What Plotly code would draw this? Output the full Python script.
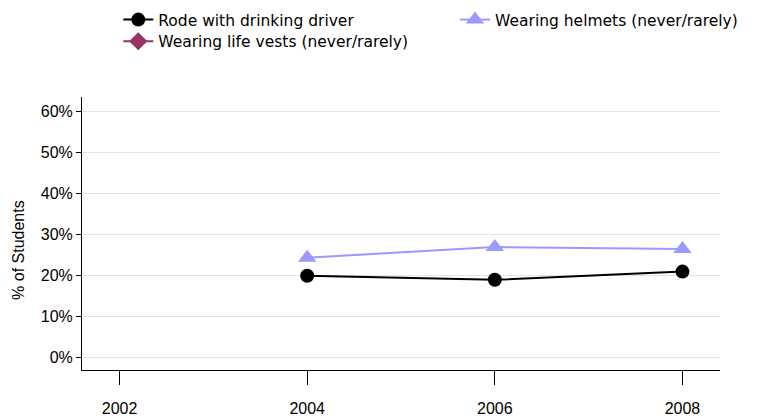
import plotly.graph_objects as go

# Datos
YEARS = [2004, 2006, 2008]
RODE_DRINKING = [19.9, 18.9, 20.9]
HELMETS_NEVER = [24.3, 26.9, 26.4]
LIFE_VESTS_NEVER = [None, None, None]
X_TICKS = [2002, 2004, 2006, 2008]
Y_TICKS = [0, 10, 20, 30, 40, 50, 60]

TICK_FONT = dict(family='Liberation Sans, Arial', size=16, color='#000000')
LEGEND_FONT = dict(family='DejaVu Sans, Verdana', size=15.5, color='#000000')


def legend_box(x, y):
    # una leyenda por serie para colocarlas como en el original
    return dict(
        orientation='h', xref='container', yref='container',
        x=x, y=y, xanchor='left', yanchor='middle',
        font=LEGEND_FONT, bgcolor='rgba(0,0,0,0)', itemsizing='trace'
    )


fig = go.Figure()
fig.add_trace(go.Scatter(
    x=YEARS, y=RODE_DRINKING, mode='lines+markers',
    name='Rode with drinking driver', legend='legend',
    line=dict(color='#000000', width=2),
    marker=dict(symbol='circle', size=14, color='#000000')
))
fig.add_trace(go.Scatter(
    x=YEARS, y=HELMETS_NEVER, mode='lines+markers',
    name='Wearing helmets (never/rarely)', legend='legend2',
    line=dict(color='#9999FF', width=2),
    marker=dict(symbol='triangle-up', size=16, color='#9999FF')
))
fig.add_trace(go.Scatter(
    x=YEARS, y=LIFE_VESTS_NEVER, mode='lines+markers',
    name='Wearing life vests (never/rarely)', legend='legend3',
    line=dict(color='#993366', width=2),
    marker=dict(symbol='diamond', size=14, color='#993366')
))

fig.update_layout(
    width=759, height=420,
    margin=dict(l=74, r=47, t=89, b=58),
    plot_bgcolor='white', paper_bgcolor='white',
    showlegend=True,
    legend=legend_box(0.1453, 0.9714),
    legend2=legend_box(0.589, 0.9714),
    legend3=legend_box(0.1453, 0.9198),
    annotations=[dict(
        text='% of Students', textangle=-90,
        xref='paper', yref='paper', x=-0.0987, y=0.44,
        xanchor='center', yanchor='middle', showarrow=False,
        font=TICK_FONT
    )]
)

fig.update_xaxes(
    range=[2001.6, 2008.4], tickvals=X_TICKS, ticktext=[str(v) for v in X_TICKS],
    showgrid=False, zeroline=False, automargin=False,
    showline=True, linecolor='#000000', linewidth=1,
    ticks='outside', ticklen=14, tickcolor='#000000', tickwidth=1,
    ticklabelstandoff=10, tickfont=TICK_FONT
)
fig.update_yaxes(
    range=[-3.1, 63.5], tickvals=Y_TICKS, ticktext=[f'{v}%' for v in Y_TICKS],
    showgrid=True, gridcolor='#E3E3E3', gridwidth=1, zeroline=False,
    automargin=False,
    showline=True, linecolor='#000000', linewidth=1,
    ticks='outside', ticklen=5, tickcolor='#000000', tickwidth=1,
    tickfont=TICK_FONT
)

fig.write_html('out.html')
